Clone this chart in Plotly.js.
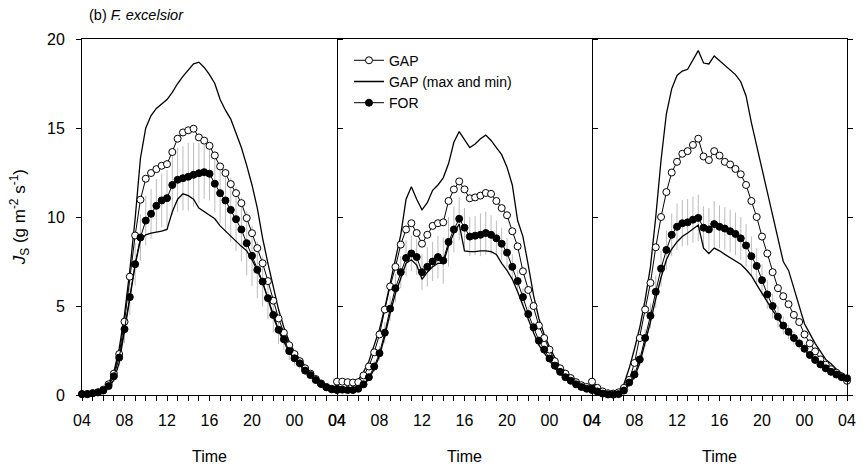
<!DOCTYPE html>
<html>
<head>
<meta charset="utf-8">
<script src="https://cdn.plot.ly/plotly-3.0.1.min.js"></script>
<style>html,body{margin:0;padding:0;background:#fff;}#chart{width:867px;height:471px;}</style>
</head>
<body>
<div id="chart"></div>
<script>
// half-hourly sampling, 04:00 to 04:00 next day
const hours = Array.from({length: 49}, (_, i) => 4 + i * 0.5);
const tickVals = [4, 8, 12, 16, 20, 24, 28];
const tickLabels = ['04', '08', '12', '16', '20', '00', '04'];

// Panel 1
const gap1 = [0.05,0.05,0.1,0.15,0.3,0.6,1.2,2.3,4.12,6.65,8.96,10.97,12.15,12.47,12.69,12.88,12.97,13.65,14.4,14.75,14.87,14.96,14.47,14.29,14.0,13.46,12.84,12.47,11.85,11.34,10.78,9.94,9.09,8.25,7.4,6.4,5.3,4.3,3.5,2.8,2.3,1.9,1.5,1.2,0.9,0.65,0.45,0.35,0.3];
const gapMax1 = [0.05,0.05,0.1,0.15,0.3,0.65,1.3,2.6,4.5,7.0,9.9,13.3,15.0,15.7,16.1,16.35,16.6,17.0,17.5,17.9,18.25,18.6,18.7,18.4,18.0,17.5,16.6,16.0,15.5,14.7,13.9,12.9,11.8,10.5,8.8,7.4,6.0,4.8,3.8,3.0,2.4,2.0,1.6,1.25,0.95,0.7,0.5,0.4,0.3];
const gapMin1 = [0.05,0.05,0.08,0.12,0.2,0.4,0.85,1.8,3.5,5.4,7.3,8.7,9.0,9.1,9.15,9.2,9.3,10.3,11.0,11.3,11.2,11.0,10.5,10.3,10.1,9.9,9.5,9.2,8.9,8.6,8.35,8.1,7.6,7.0,6.3,5.4,4.4,3.6,3.0,2.4,2.0,1.7,1.3,1.05,0.8,0.58,0.4,0.3,0.25];
const for1 = [0.05,0.05,0.1,0.15,0.25,0.5,1.05,2.1,3.7,5.5,7.35,8.85,9.8,10.18,10.63,10.93,11.06,11.8,12.09,12.18,12.26,12.37,12.46,12.52,12.43,11.87,11.34,10.93,10.4,9.88,9.3,8.53,7.82,7.03,6.37,5.44,4.5,3.66,3.13,2.47,2.06,1.78,1.37,1.12,0.84,0.62,0.43,0.32,0.28];
const forErr1 = [0.02,0.02,0.03,0.05,0.08,0.15,0.3,0.5,0.8,1.0,1.2,1.3,1.4,1.4,1.5,1.5,1.6,1.7,1.8,1.8,1.9,1.8,1.7,1.5,1.5,1.6,1.7,1.8,1.8,1.8,1.8,1.8,1.7,1.6,1.4,1.2,1.0,0.8,0.6,0.5,0.4,0.3,0.25,0.2,0.15,0.1,0.08,0.06,0.05];

// Panel 2
const gap2 = [0.75,0.75,0.72,0.7,0.72,1.1,1.6,2.4,3.4,4.8,6.1,7.2,8.45,9.3,9.65,9.1,8.5,9.0,9.5,9.65,9.7,10.9,11.55,12.0,11.55,11.05,11.1,11.2,11.35,11.3,10.9,10.5,10.1,9.2,8.35,6.95,5.9,5.0,3.9,3.2,2.55,1.9,1.5,1.2,0.95,0.72,0.55,0.45,0.4];
const gapMax2 = [0.8,0.8,0.78,0.78,0.85,1.3,1.9,2.8,3.7,4.9,6.3,7.6,9.0,11.0,11.7,11.0,10.4,10.8,11.5,11.8,12.2,13.0,14.2,14.8,14.35,13.9,14.1,14.4,14.6,14.3,13.9,13.5,12.8,11.8,9.8,8.9,7.3,5.6,4.3,3.4,2.7,2.1,1.6,1.3,1.05,0.8,0.65,0.5,0.42];
const gapMin2 = [0.3,0.25,0.22,0.22,0.3,0.55,0.9,1.45,2.2,3.3,4.6,5.7,6.6,7.4,7.6,7.3,6.5,6.9,7.2,7.4,7.4,8.4,9.1,9.6,8.1,8.05,8.05,8.1,8.1,8.05,7.9,7.4,7.0,6.5,5.8,5.0,4.2,3.5,2.8,2.35,1.9,1.5,1.2,0.9,0.7,0.55,0.4,0.3,0.25];
const for2 = [0.35,0.3,0.28,0.28,0.35,0.6,1.0,1.6,2.35,3.5,4.85,6.0,6.9,7.7,7.95,7.75,6.9,7.2,7.5,7.75,7.55,8.6,9.3,9.9,9.4,8.9,8.95,9.0,9.1,9.0,8.8,8.5,8.0,7.2,6.4,5.5,4.55,3.8,3.05,2.55,2.05,1.65,1.3,1.0,0.8,0.6,0.45,0.35,0.28];
const forErr2 = [0.05,0.05,0.05,0.05,0.05,0.1,0.2,0.3,0.4,0.6,0.7,0.8,0.9,1.0,1.0,1.0,1.0,1.1,1.1,1.2,1.3,1.4,1.3,1.2,1.1,1.1,1.1,1.2,1.2,1.1,1.0,0.9,0.8,0.7,0.6,0.5,0.4,0.3,0.25,0.2,0.15,0.1,0.1,0.1,0.1,0.1,0.1,0.1,0.1];

// Panel 3
const gap3 = [0.75,0.4,0.2,0.1,0.08,0.15,0.4,0.85,1.8,3.2,4.8,6.3,8.3,10.0,11.4,12.5,13.1,13.55,13.7,14.05,14.4,13.4,13.2,13.7,13.45,13.1,12.95,12.7,12.4,11.8,10.9,10.0,8.9,7.95,6.9,6.0,5.55,5.1,4.5,4.1,3.4,2.9,2.45,2.0,1.7,1.45,1.25,1.05,0.8];
const gapMax3 = [0.8,0.45,0.25,0.15,0.12,0.25,0.6,1.5,2.6,3.8,5.35,7.2,10.0,13.2,15.8,17.2,17.95,18.2,18.3,18.8,19.35,18.65,18.6,19.05,18.8,18.5,18.25,18.0,17.6,16.8,15.3,14.0,12.7,11.45,10.1,8.7,7.5,7.0,6.0,4.95,4.0,3.45,2.9,2.45,2.0,1.75,1.45,1.22,1.0];
const gapMin3 = [0.3,0.15,0.05,0.02,0.01,0.03,0.2,0.6,1.0,1.8,2.9,4.1,5.4,6.6,7.6,8.2,8.6,8.9,9.1,9.3,9.55,8.25,7.95,8.25,8.1,7.9,7.7,7.55,7.35,7.05,6.7,6.2,5.7,5.2,4.75,4.3,3.85,3.5,3.15,2.85,2.55,2.2,1.92,1.68,1.45,1.27,1.1,0.98,0.9];
const for3 = [0.35,0.2,0.08,0.03,0.02,0.05,0.25,0.7,1.15,2.0,3.2,4.45,5.8,7.1,8.15,9.0,9.45,9.65,9.7,9.85,9.95,9.4,9.3,9.6,9.45,9.35,9.2,9.05,8.8,8.4,7.8,7.25,6.45,5.65,5.0,4.4,3.9,3.55,3.2,2.9,2.6,2.25,1.97,1.72,1.5,1.3,1.15,1.0,0.94];
const forErr3 = [0.05,0.05,0.05,0.05,0.05,0.05,0.1,0.2,0.3,0.4,0.5,0.7,0.9,1.0,1.1,1.2,1.3,1.3,1.3,1.3,1.3,1.2,1.2,1.3,1.2,1.2,1.2,1.2,1.2,1.2,1.1,1.0,0.9,0.8,0.7,0.6,0.5,0.4,0.35,0.3,0.25,0.2,0.2,0.2,0.2,0.2,0.2,0.2,0.2];

const panels = [
  {gap: gap1, max: gapMax1, min: gapMin1, fr: for1, err: forErr1},
  {gap: gap2, max: gapMax2, min: gapMin2, fr: for2, err: forErr2},
  {gap: gap3, max: gapMax3, min: gapMin3, fr: for3, err: forErr3}
];

const FONT = '"Liberation Sans", Arial, Helvetica, sans-serif';
const traces = [];
panels.forEach((p, k) => {
  const xa = k === 0 ? 'x' : 'x' + (k + 1);
  const ya = k === 0 ? 'y' : 'y' + (k + 1);
  const first = k === 0;
  traces.push({
    x: hours, y: p.fr, xaxis: xa, yaxis: ya, type: 'scatter', mode: 'markers',
    marker: {size: 1, color: 'rgba(0,0,0,0)'},
    error_y: {type: 'data', array: p.err, visible: true, color: '#bcbcbc', thickness: 1, width: 0},
    showlegend: false, hoverinfo: 'skip', cliponaxis: false
  });
  traces.push({
    x: hours, y: p.max, xaxis: xa, yaxis: ya, type: 'scatter', mode: 'lines',
    line: {color: '#000', width: 1.3}, name: 'GAP (max and min)',
    showlegend: first, legendrank: 2
  });
  traces.push({
    x: hours, y: p.min, xaxis: xa, yaxis: ya, type: 'scatter', mode: 'lines',
    line: {color: '#000', width: 1.3}, name: 'GAP (max and min)',
    showlegend: false
  });
  traces.push({
    x: hours, y: p.gap, xaxis: xa, yaxis: ya, type: 'scatter', mode: 'lines+markers',
    line: {color: '#000', width: 1},
    marker: {symbol: 'circle', size: 7, color: '#fff', line: {color: '#000', width: 1}},
    name: 'GAP', showlegend: first, legendrank: 1, cliponaxis: false
  });
  traces.push({
    x: hours, y: p.fr, xaxis: xa, yaxis: ya, type: 'scatter', mode: 'lines+markers',
    line: {color: '#000', width: 1},
    marker: {symbol: 'circle', size: 7, color: '#000', line: {color: '#000', width: 1}},
    name: 'FOR', showlegend: first, legendrank: 3, cliponaxis: false
  });
});

function xAxis(dom, anchor) {
  return {
    domain: dom, anchor: anchor, range: [4, 28], showgrid: false, zeroline: false,
    showline: true, mirror: true, linecolor: '#000', linewidth: 1,
    ticks: 'outside', ticklen: 5, tickwidth: 1, tickcolor: '#000',
    tickmode: 'array', tickvals: tickVals, ticktext: tickLabels,
    ticklabelstandoff: 6,
    minor: {tickmode: 'linear', tick0: 4, dtick: 1, ticks: 'outside', ticklen: 5, tickwidth: 1, tickcolor: '#000', showgrid: false},
    tickfont: {family: FONT, size: 16, color: '#000'}
  };
}
function yAxis(anchor, labels, side, mirror) {
  return {
    anchor: anchor, side: side, range: [0, 20], showgrid: false, zeroline: false,
    showline: true, mirror: mirror, linecolor: '#000', linewidth: 1,
    ticks: 'outside', ticklen: 5, tickwidth: 1, tickcolor: '#000',
    tickmode: 'linear', tick0: 0, dtick: 5, showticklabels: labels,
    ticklabelstandoff: 8,
    tickfont: {family: FONT, size: 16, color: '#000'}
  };
}

const d = 1 / 3;
const layout = {
  width: 867, height: 471,
  margin: {l: 82, r: 20, t: 39, b: 76, pad: 0},
  paper_bgcolor: '#fff', plot_bgcolor: 'rgba(0,0,0,0)',
  font: {family: FONT, color: '#000'},
  showlegend: true,
  legend: {
    x: 0.349, y: 0.984, xanchor: 'left', yanchor: 'top',
    bgcolor: 'rgba(0,0,0,0)', borderwidth: 0,
    font: {family: FONT, size: 14, color: '#000'}, tracegroupgap: 0
  },
  xaxis: xAxis([0, d], 'y'),
  xaxis2: xAxis([d, 2 * d], 'y2'),
  xaxis3: xAxis([2 * d, 1], 'y3'),
  yaxis: yAxis('x', true, 'left', 'ticks'),
  yaxis2: yAxis('x2', false, 'right', false),
  yaxis3: yAxis('x3', false, 'right', false),
  annotations: [
    {text: '(b) <i>F. excelsior</i>', xref: 'paper', yref: 'paper', x: 0.006, y: 1.068,
     xanchor: 'left', yanchor: 'middle', showarrow: false, font: {family: FONT, size: 14.5, color: '#000'}},
    {text: '<i>J</i><sub>S</sub> (g m<sup>-2</sup> s<sup>-1</sup>)', xref: 'paper', yref: 'paper',
     x: -0.082, y: 0.5, xanchor: 'center', yanchor: 'middle', textangle: -90, showarrow: false,
     font: {family: FONT, size: 17, color: '#000'}},
    {text: 'Time', xref: 'paper', yref: 'paper', x: d / 2, y: -0.172, xanchor: 'center', yanchor: 'middle',
     showarrow: false, font: {family: FONT, size: 16, color: '#000'}},
    {text: 'Time', xref: 'paper', yref: 'paper', x: 1.5 * d, y: -0.172, xanchor: 'center', yanchor: 'middle',
     showarrow: false, font: {family: FONT, size: 16, color: '#000'}},
    {text: 'Time', xref: 'paper', yref: 'paper', x: 2.5 * d, y: -0.172, xanchor: 'center', yanchor: 'middle',
     showarrow: false, font: {family: FONT, size: 16, color: '#000'}}
  ]
};

Plotly.newPlot('chart', traces, layout, {displayModeBar: false, staticPlot: true});
</script>
</body>
</html>
